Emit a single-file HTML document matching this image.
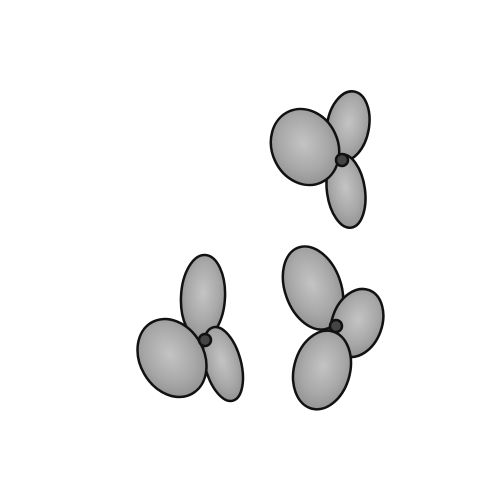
<!DOCTYPE html>
<html><head><meta charset="utf-8"><style>html,body{margin:0;padding:0;background:#fff;width:500px;height:500px;overflow:hidden}</style></head>
<body>
<svg width="500" height="500" viewBox="0 0 500 500">
<defs>
<radialGradient id="g" cx="0.5" cy="0.45" r="0.6">
<stop offset="0" stop-color="#c4c4c4"/><stop offset="0.6" stop-color="#a8a8a8"/><stop offset="1" stop-color="#8e8e8e"/>
</radialGradient>
</defs>
<g stroke="#111" stroke-width="2.5" fill="url(#g)">
<g>
<ellipse cx="348" cy="126" rx="21" ry="35" transform="rotate(10 348 126)"/>
<ellipse cx="346" cy="191" rx="19" ry="37" transform="rotate(-8 346 191)"/>
<ellipse cx="305" cy="147" rx="33" ry="39" transform="rotate(-25 305 147)"/>
<circle cx="342" cy="160" r="6" fill="#444"/>
</g>
<g>
<ellipse cx="203" cy="297" rx="22" ry="42" transform="rotate(3 203 297)"/>
<ellipse cx="223" cy="364" rx="18" ry="38" transform="rotate(-15 223 364)"/>
<ellipse cx="172" cy="358" rx="32" ry="41" transform="rotate(-30 172 358)"/>
<circle cx="205" cy="340" r="6" fill="#444"/>
</g>
<g>
<ellipse cx="313" cy="288" rx="28" ry="43" transform="rotate(-20 313 288)"/>
<ellipse cx="357" cy="323" rx="25" ry="35" transform="rotate(20 357 323)"/>
<ellipse cx="322" cy="370" rx="28" ry="40" transform="rotate(15 322 370)"/>
<circle cx="336" cy="326" r="6" fill="#444"/>
</g>
</g>
</svg>
</body></html>
